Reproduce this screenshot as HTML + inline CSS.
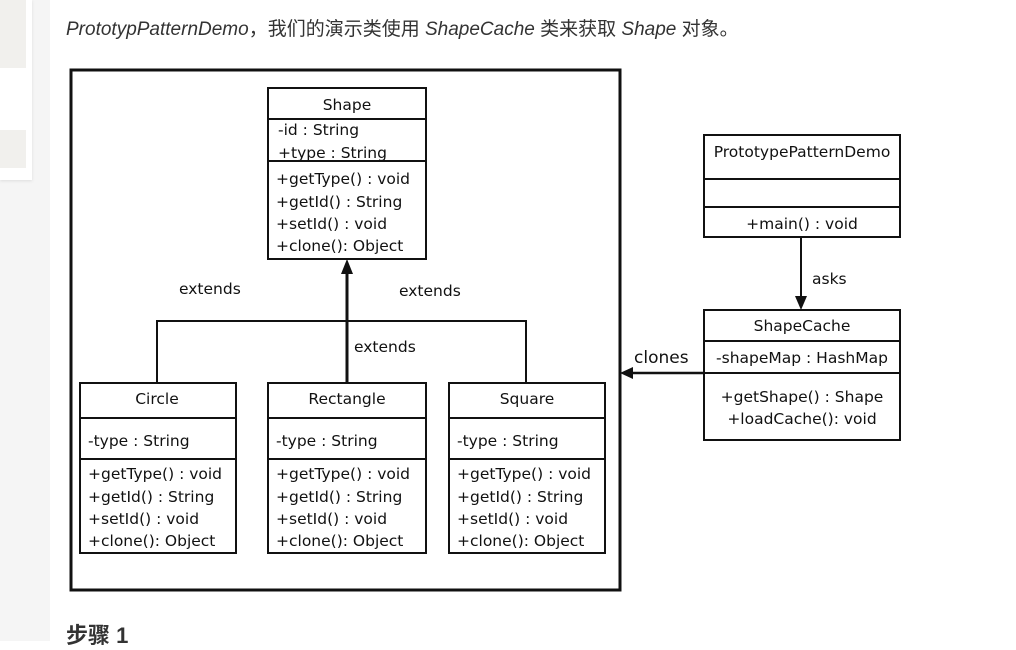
<!DOCTYPE html>
<html><head><meta charset="utf-8"><style>
body{margin:0;width:1016px;height:641px;background:#fff;position:relative;overflow:hidden;font-family:"Liberation Sans","Noto Sans CJK SC",sans-serif}
.side{position:absolute;left:0;top:0;width:50px;height:641px;background:#f5f5f5}
.card{position:absolute;left:0;top:0;width:32px;height:180px;background:#fff;box-shadow:0 1px 3px #ddd}
.g{position:absolute;left:0;width:26px;background:#f1f0ed}
.intro{position:absolute;left:66px;top:14px;font-size:19px;color:#333}
.intro i{font-style:italic}
.h{position:absolute;left:66px;top:618px;font-size:22px;font-weight:bold;color:#333}
svg{position:absolute;left:0;top:0}
svg text{font-family:"DejaVu Sans",sans-serif;font-size:15.5px;fill:#111}
</style></head><body>
<div class="side"><div class="card"><div class="g" style="top:0;height:68px"></div><div class="g" style="top:130px;height:38px"></div></div></div>
<div class="intro"><i>PrototypPatternDemo</i>，我们的演示类使用 <i>ShapeCache</i> 类来获取 <i>Shape</i> 对象。</div>
<svg width="1016" height="641">
<g fill="none" stroke="#111" stroke-width="2">
<rect x="71" y="70" width="549" height="520" stroke-width="3"/>
<rect x="268" y="88" width="158" height="171"/><line x1="268" y1="119" x2="426" y2="119"/><line x1="268" y1="161" x2="426" y2="161"/>
<rect x="80" y="383" width="156" height="170"/><line x1="80" y1="418" x2="236" y2="418"/><line x1="80" y1="459" x2="236" y2="459"/>
<rect x="268" y="383" width="158" height="170"/><line x1="268" y1="418" x2="426" y2="418"/><line x1="268" y1="459" x2="426" y2="459"/>
<rect x="449" y="383" width="156" height="170"/><line x1="449" y1="418" x2="605" y2="418"/><line x1="449" y1="459" x2="605" y2="459"/>
<rect x="704" y="135" width="196" height="102"/><line x1="704" y1="179" x2="900" y2="179"/><line x1="704" y1="207" x2="900" y2="207"/>
<rect x="704" y="310" width="196" height="130"/><line x1="704" y1="341" x2="900" y2="341"/><line x1="704" y1="373" x2="900" y2="373"/>
<polyline points="157,383 157,321 526,321 526,383"/>
<line x1="347" y1="383" x2="347" y2="272" stroke-width="3"/>
<line x1="801" y1="237" x2="801" y2="300"/>
<line x1="704" y1="373" x2="630" y2="373" stroke-width="2.5"/>
</g>
<polygon points="347,259 341,274 353,274" fill="#111"/>
<polygon points="801,310 795,296 807,296" fill="#111"/>
<polygon points="620,373 633,367 633,379" fill="#111"/>
<g text-anchor="middle">
<text x="347" y="110">Shape</text><text x="157" y="404">Circle</text><text x="347" y="404">Rectangle</text><text x="527" y="404">Square</text>
<text x="802" y="157">PrototypePatternDemo</text><text x="802" y="229">+main() : void</text>
<text x="802" y="331">ShapeCache</text><text x="802" y="363">-shapeMap : HashMap</text>
<text x="802" y="402">+getShape() : Shape</text><text x="802" y="424">+loadCache(): void</text>
</g>
<text x="278" y="135">-id : String</text><text x="278" y="158">+type : String</text>
<text x="276" y="184">+getType() : void</text><text x="276" y="207">+getId() : String</text><text x="276" y="229">+setId() : void</text><text x="276" y="251">+clone(): Object</text>
<g>
<text x="88" y="446">-type : String</text><text x="88" y="479">+getType() : void</text><text x="88" y="502">+getId() : String</text><text x="88" y="524">+setId() : void</text><text x="88" y="546">+clone(): Object</text>
<text x="276" y="446">-type : String</text><text x="276" y="479">+getType() : void</text><text x="276" y="502">+getId() : String</text><text x="276" y="524">+setId() : void</text><text x="276" y="546">+clone(): Object</text>
<text x="457" y="446">-type : String</text><text x="457" y="479">+getType() : void</text><text x="457" y="502">+getId() : String</text><text x="457" y="524">+setId() : void</text><text x="457" y="546">+clone(): Object</text>
</g>
<text x="179" y="294">extends</text><text x="399" y="296">extends</text><text x="354" y="352">extends</text>
<text x="812" y="284">asks</text><text x="634" y="363" style="font-size:17px">clones</text>
</svg>
<div class="h">步骤 1</div>
</body></html>
